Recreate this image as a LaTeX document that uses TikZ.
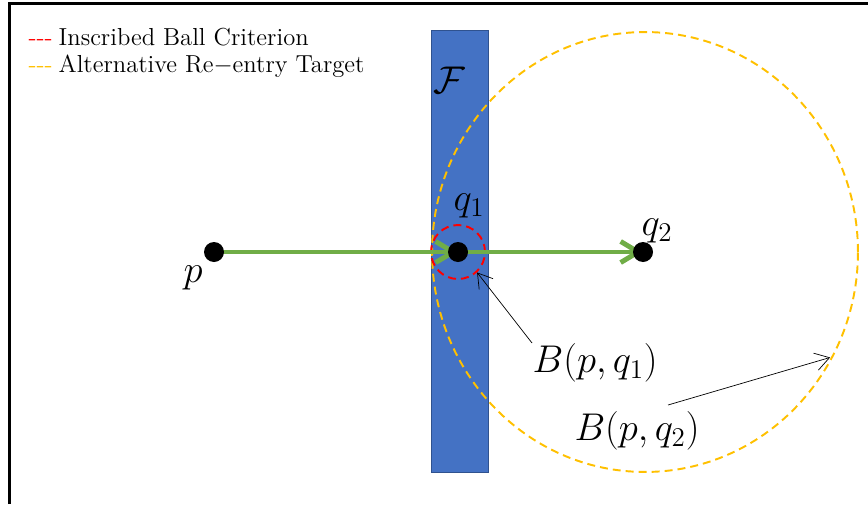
\RequirePackage{fix-cm}
\documentclass[tikz,border=0pt]{standalone}
\usepackage{fontspec}
\usetikzlibrary{arrows.meta,shapes.geometric}

\begin{document}
\begin{tikzpicture}[x=0.02cm,y=-0.02cm,thick,
 dot/.style={circle,fill=black,inner sep=0pt,minimum size=0.4cm},
 lbl/.style={inner sep=0pt,font=\fontsize{22}{26}\selectfont},
 legtext/.style={anchor=base west,inner sep=0pt,font=\fontsize{14}{16}\selectfont},
 ring/.style={draw,line width=1.1pt,dash pattern=on 0.16cm off 0.1cm,inner sep=0pt},
 pointer/.style={thin,-{Straight Barb[length=8pt,width=10pt]}},
 stepline/.style={leaf,line width=2.8pt,-{Straight Barb[length=10pt,width=12pt,line width=2.8pt]}}]
\definecolor{fblue}{RGB}{68,114,196}
\definecolor{fedge}{RGB}{47,82,143}
\definecolor{gold}{RGB}{255,192,0}
\definecolor{leaf}{RGB}{112,173,71}
\useasboundingbox (0,0) rectangle (868,504);
\draw[line width=0.06cm] (9.5,504) -- (9.5,3.5) -- (868,3.5);
% legend
\node[legtext,red] (legone) at (28,45) {{-}{-}{-}};
\node[legtext] (legonetext) at (58,45) {Inscribed Ball Criterion};
\node[legtext,gold] (legtwo) at (28,72) {{-}{-}{-}};
\node[legtext] (legtwotext) at (58,72) {Alternative Re$-$entry Target};
% the set F
\filldraw[fill=fblue,draw=fedge,thin] (431,30) rectangle (488,472);
\node[lbl] (fset) at (449,80) {$\mathcal{F}$};
\coordinate (p) at (214,252);
\coordinate (q1) at (458,252);
\coordinate (q2) at (643,252);
\node[ring,gold,ellipse,minimum width=8.52cm,minimum height=8.8cm] (balltwo) at (645,252) {};
\node[ring,red,circle,minimum size=1.08cm] (ballone) at (q1) {};
\draw[stepline] (p) -- (q1);
\draw[stepline] (q1) -- (q2);
\node[dot] (pdot) at (p) {};
\node[dot] (qonedot) at (q1) {};
\node[dot] (qtwodot) at (q2) {};
\node[lbl] (plbl) at (193,278) {$p$};
\node[lbl] (qonelbl) at (469,206) {$q_1$};
\node[lbl] (qtwolbl) at (657,231) {$q_2$};
\node[lbl,anchor=north west] (bonelbl) at (532,343) {$B(p,q_1)$};
\node[lbl] (btwolbl) at (637,431) {$B(p,q_2)$};
\draw[pointer] (bonelbl.north west) -- (ballone.-47);
\draw[pointer,shorten >=2pt] ([xshift=0.62cm,yshift=0.12cm]btwolbl.north) -- (balltwo.-29);
\end{tikzpicture}
\end{document}
